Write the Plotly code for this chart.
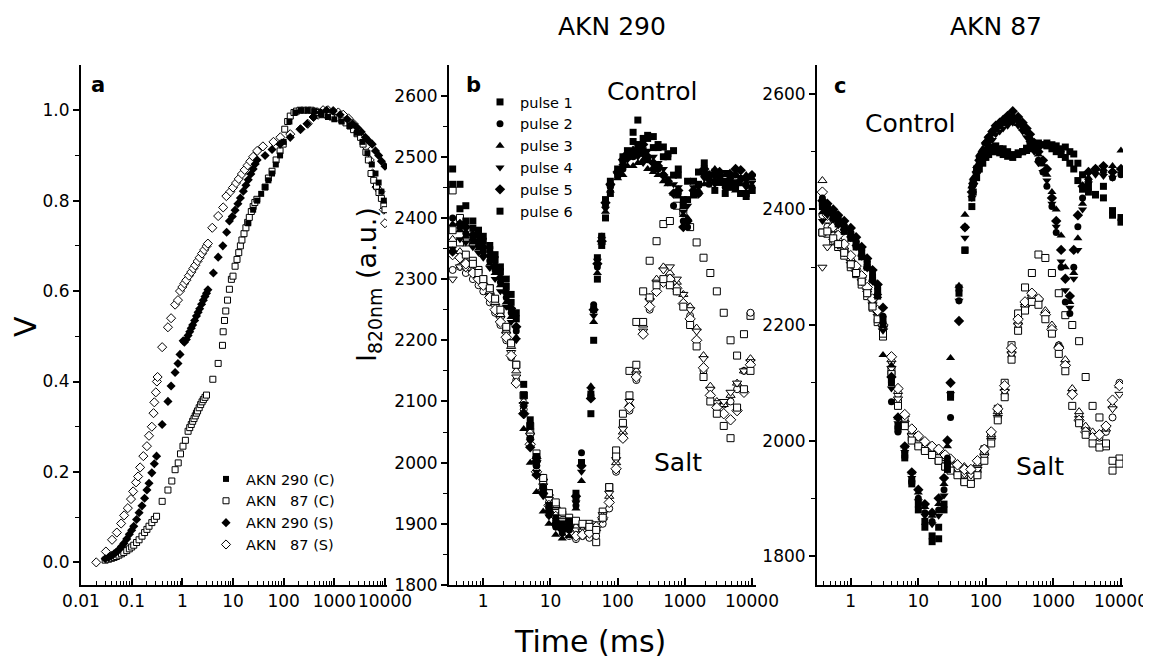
import plotly.graph_objects as go

W, H = 1151, 666
OFF = 8  # the page body adds an 8px margin; positions below are given in reference pixels


def px(x):
    return (x - OFF) / W


def py(y):
    return 1 - (y - OFF) / H


# ---------------- Panel a : normalised V vs time ----------------
a290c_t = [20, 25, 30, 36, 43, 50, 59, 70, 85, 100, 130, 170, 220, 300, 400, 550, 750, 1000, 1400, 2000,
           2800, 3600, 4500, 5500, 6500, 7500, 8500, 9500]
a290c_v = [0.75, 0.78, 0.80, 0.815, 0.83, 0.845, 0.86, 0.88, 0.90, 0.93, 0.975, 0.995, 1.0, 1.0, 0.998, 0.99,
           0.985, 0.98, 0.975, 0.965, 0.95, 0.93, 0.905, 0.88, 0.86, 0.84, 0.82, 0.80]

a87c_t = [0.03, 0.035, 0.04, 0.045, 0.05, 0.056, 0.063, 0.07, 0.08, 0.09, 0.1, 0.11, 0.125, 0.14, 0.16, 0.18,
          0.2, 0.22, 0.25, 0.28, 0.31,
          0.4, 0.52, 0.62, 0.72, 0.83, 0.92, 1.03, 1.15,
          1.3, 1.4, 1.5, 1.6, 1.7, 1.8, 1.9, 2.0, 2.15, 2.3, 2.45, 2.6, 2.8, 3.0,
          4.0, 5.1, 6.2, 6.4, 6.8, 7.2, 7.8, 8.5, 9.3,
          10, 11, 12, 13, 14, 15, 16.5, 18, 19.5, 21, 23, 25, 27, 29.6,
          43, 50, 59, 71, 85, 98, 105, 120, 135, 160, 180, 210, 250, 300, 350, 420, 500, 600, 750, 900,
          1150, 1400, 1700, 2050, 2400, 2800, 3300, 3700, 4200, 4700, 5300, 6000, 6800, 7600, 8500, 9500, 10000]
a87c_v = [0.005, 0.007, 0.009, 0.011, 0.013, 0.016, 0.019, 0.022, 0.026, 0.03, 0.034, 0.038, 0.044, 0.05,
          0.058, 0.066, 0.073, 0.08, 0.088, 0.095, 0.102,
          0.135, 0.16, 0.18, 0.205, 0.22, 0.24, 0.257, 0.27,
          0.29, 0.298, 0.305, 0.312, 0.318, 0.324, 0.33, 0.335, 0.342, 0.349, 0.355, 0.36, 0.365, 0.37,
          0.405, 0.44, 0.48, 0.51, 0.535, 0.556, 0.58, 0.604, 0.626,
          0.633, 0.655, 0.67, 0.685, 0.70, 0.713, 0.727, 0.74, 0.752, 0.763, 0.776, 0.787, 0.796, 0.803,
          0.83, 0.85, 0.865, 0.89, 0.91, 0.925, 0.958, 0.975, 0.987, 0.995, 0.998, 1.0, 1.0, 1.0, 1.0, 0.998,
          0.995, 0.99, 0.988, 0.985, 0.983, 0.978, 0.972, 0.965, 0.957, 0.948, 0.94, 0.925, 0.907, 0.89,
          0.86, 0.845, 0.832, 0.818, 0.805, 0.79, 0.78]

a290s_t = [0.03, 0.035, 0.04, 0.045, 0.05, 0.056, 0.063, 0.07, 0.08, 0.09, 0.1, 0.11, 0.125, 0.14, 0.16, 0.18,
           0.2, 0.22, 0.25, 0.28, 0.31,
           0.40, 0.52, 0.60, 0.72, 0.82, 0.90, 1.04,
           1.1, 1.2, 1.3, 1.4, 1.5, 1.6, 1.75, 1.9, 2.05, 2.2, 2.4, 2.6, 2.8, 3.0, 3.2,
           4.1, 5.1, 6.3, 7.5, 8.5,
           9.7, 11, 12.5, 14, 16, 18, 20, 22.5, 25, 27.5, 30,
           43, 59, 85, 135, 215, 290, 390, 530, 700, 950, 1300, 1800, 2300, 2800, 3400, 4100, 4800, 5600,
           6500, 7500, 8500, 10000]
a290s_v = [0.008, 0.011, 0.015, 0.019, 0.023, 0.028, 0.035, 0.042, 0.052, 0.062, 0.071, 0.08, 0.095, 0.11,
           0.125, 0.142, 0.16, 0.175, 0.198, 0.218, 0.235,
           0.305, 0.356, 0.39, 0.42, 0.44, 0.46, 0.49,
           0.487, 0.493, 0.502, 0.51, 0.518, 0.525, 0.535, 0.545, 0.553, 0.561, 0.571, 0.58, 0.588, 0.595, 0.603,
           0.64, 0.675, 0.70, 0.73, 0.755,
           0.765, 0.779, 0.793, 0.806, 0.821, 0.834, 0.846, 0.859, 0.87, 0.881, 0.89,
           0.90, 0.913, 0.925, 0.94, 0.958, 0.97, 0.985, 0.995, 1.0, 0.998, 0.99, 0.98, 0.97, 0.962, 0.952,
           0.94, 0.932, 0.925, 0.91, 0.9, 0.887, 0.876]

a87s_t = [0.02, 0.031, 0.041, 0.051, 0.062, 0.071, 0.084, 0.097, 0.107, 0.122,
          0.134, 0.147, 0.17, 0.2, 0.22, 0.25, 0.27, 0.28, 0.30, 0.315, 0.325,
          0.40, 0.52, 0.60, 0.72, 0.82,
          0.9, 1.0, 1.1, 1.2, 1.35, 1.5, 1.65, 1.8, 2.0, 2.2, 2.45, 2.7, 3.0, 3.2,
          3.9, 5.1, 6.4, 7.4,
          8.9, 10, 11.5, 13, 15, 17, 19.5, 22, 25, 30,
          39, 63, 86, 135, 215, 300, 390, 480, 600, 750, 950, 1200, 1500, 1900, 2400, 3200, 4200, 5000,
          5700, 6800, 8100, 9500, 10000]
a87s_v = [0.0, 0.024, 0.05, 0.066, 0.086, 0.104, 0.12, 0.14, 0.157, 0.177,
          0.19, 0.21, 0.235, 0.257, 0.28, 0.30, 0.33, 0.354, 0.376, 0.40, 0.41,
          0.476, 0.52, 0.54, 0.57, 0.58,
          0.60, 0.609, 0.617, 0.624, 0.634, 0.642, 0.65, 0.657, 0.666, 0.674, 0.683, 0.691, 0.699, 0.705,
          0.74, 0.766, 0.785, 0.81,
          0.82, 0.829, 0.839, 0.848, 0.859, 0.868, 0.878, 0.887, 0.897, 0.91,
          0.92, 0.93, 0.94, 0.947, 0.958, 0.97, 0.985, 0.99, 1.0, 1.0, 0.998, 0.995, 0.99, 0.982, 0.97,
          0.953, 0.92, 0.89, 0.86, 0.83, 0.82, 0.78, 0.75]

# ---------------- Panel b : AKN 290, I820nm ----------------
b_ctrl_t = [0.35, 0.45, 0.55, 0.7, 0.85, 1.0, 1.25, 1.5, 1.8, 2.2, 2.6, 3.1, 4.0, 5.0, 6.2, 7.8, 9.5, 12, 15,
            19, 24, 29, 40, 44, 50, 58, 66, 78, 100, 140, 200, 280, 400, 560, 800, 1100, 1600, 2300, 3300,
            4700, 6800, 10000]
b_ctrl_p1 = [2480, 2455, 2420, 2395, 2380, 2370, 2355, 2340, 2320, 2300, 2275, 2245, 2128, 2070, 2010, 1960,
             1930, 1910, 1900, 1905, 1950, 2000, 2080, 2200, 2300, 2355, 2400, 2440, 2470, 2500, 2560, 2530,
             2520, 2500, 2470, 2430, 2455, 2470, 2470, 2465, 2440, 2445]
b_ctrl_p2 = [2400, 2385, 2375, 2365, 2355, 2345, 2330, 2315, 2295, 2270, 2245, 2215, 2095, 2040, 1995, 1955,
             1915, 1895, 1885, 1890, 1930, 2016, 2110, 2258, 2320, 2370, 2420, 2450, 2475, 2500, 2505, 2495,
             2480, 2460, 2440, 2385, 2440, 2455, 2460, 2455, 2465, 2450]
b_ctrl_p3 = [2390, 2380, 2370, 2360, 2350, 2340, 2325, 2310, 2290, 2262, 2238, 2205, 2055, 2000, 1952, 1920,
             1900, 1882, 1876, 1880, 1925, 1970, 2125, 2230, 2310, 2360, 2410, 2445, 2465, 2485, 2490, 2480,
             2470, 2455, 2435, 2400, 2445, 2465, 2470, 2460, 2455, 2465]
b_ctrl_p4 = [2350, 2365, 2360, 2352, 2343, 2335, 2318, 2300, 2280, 2255, 2230, 2200, 2090, 2035, 1985, 1945,
             1912, 1895, 1888, 1890, 1935, 1985, 2120, 2240, 2330, 2365, 2415, 2450, 2470, 2495, 2500, 2510,
             2490, 2465, 2450, 2420, 2450, 2460, 2465, 2462, 2460, 2458]
b_ctrl_p5 = [2345, 2390, 2385, 2372, 2362, 2352, 2338, 2322, 2302, 2278, 2252, 2222, 2080, 2025, 1980, 1950,
             1920, 1900, 1890, 1895, 1945, 1995, 2105, 2250, 2325, 2362, 2425, 2455, 2475, 2505, 2510, 2500,
             2485, 2460, 2445, 2395, 2440, 2470, 2475, 2472, 2478, 2470]
b_ctrl_p6 = [2455, 2415, 2395, 2383, 2372, 2362, 2348, 2332, 2312, 2288, 2262, 2235, 2110, 2060, 2000, 1955,
             1925, 1900, 1895, 1900, 1940, 2000, 2112, 2250, 2335, 2370, 2430, 2460, 2480, 2510, 2520, 2535,
             2515, 2505, 2480, 2460, 2475, 2470, 2458, 2450, 2440, 2445]

# extra control readings on the plateau (t >= 120 ms)
b_ctrl2_t = [120, 170, 240, 340, 480, 680, 950, 1350, 1950, 2800, 4000, 5700, 8200]
b_ctrl2_p1 = [2490, 2540, 2510, 2533, 2516, 2510, 2420, 2440, 2480, 2475, 2460, 2450, 2435]
b_ctrl2_p2 = [2480, 2500, 2505, 2480, 2470, 2420, 2395, 2440, 2470, 2460, 2450, 2470, 2455]
b_ctrl2_p3 = [2470, 2485, 2495, 2475, 2460, 2440, 2405, 2435, 2455, 2480, 2470, 2445, 2470]
b_ctrl2_p4 = [2485, 2505, 2490, 2500, 2480, 2455, 2410, 2450, 2465, 2455, 2475, 2460, 2450]
b_ctrl2_p5 = [2495, 2510, 2520, 2490, 2470, 2440, 2385, 2445, 2480, 2470, 2455, 2480, 2465]
b_ctrl2_p6 = [2500, 2525, 2530, 2515, 2500, 2470, 2430, 2460, 2490, 2445, 2440, 2455, 2440]

b_salt_t = [0.35, 0.45, 0.55, 0.7, 0.85, 1.0, 1.25, 1.5, 1.8, 2.2, 2.6, 3.1, 4.0, 5.0, 6.2, 7.8, 9.5, 12, 15,
            19, 24, 30, 38, 48, 60, 75, 95, 120, 150, 190, 240, 300, 380, 480, 600, 760, 950, 1200, 1500,
            1900, 2400, 3000, 3800, 4800, 6000, 7600, 9500]
b_salt_p1 = [2445, 2400, 2360, 2330, 2315, 2300, 2285, 2265, 2245, 2220, 2195, 2160, 2110, 2050, 2005, 1970,
             1950, 1930, 1915, 1905, 1900, 1895, 1900, 1870, 1920, 1960, 2020, 2080, 2150, 2230, 2280, 2330,
             2362, 2390, 2395, 2420, 2410, 2385, 2360, 2335, 2310, 2280, 2245, 2200, 2175, 2210, 2240]
b_salt_p2 = [2315, 2320, 2310, 2300, 2290, 2280, 2262, 2245, 2225, 2200, 2172, 2135, 2087, 2040, 1995, 1960,
             1935, 1915, 1900, 1880, 1875, 1880, 1877, 1880, 1900, 1925, 1985, 2040, 2085, 2135, 2210, 2250,
             2280, 2295, 2300, 2280, 2260, 2240, 2200, 2150, 2110, 2090, 2095, 2100, 2120, 2150, 2245]
b_salt_p3 = [2365, 2345, 2330, 2315, 2305, 2295, 2280, 2262, 2242, 2215, 2190, 2150, 2100, 2050, 2010, 1975,
             1950, 1930, 1915, 1905, 1895, 1890, 1890, 1892, 1910, 1945, 2000, 2050, 2095, 2150, 2225, 2270,
             2300, 2320, 2310, 2295, 2275, 2255, 2220, 2175, 2125, 2100, 2095, 2110, 2130, 2150, 2170]
b_salt_p4 = [2300, 2320, 2318, 2310, 2300, 2290, 2272, 2255, 2235, 2210, 2180, 2140, 2095, 2045, 2000, 1962,
             1940, 1920, 1905, 1895, 1890, 1888, 1895, 1900, 1915, 1950, 2005, 2055, 2100, 2145, 2215, 2265,
             2295, 2315, 2320, 2300, 2275, 2250, 2215, 2170, 2120, 2098, 2100, 2115, 2130, 2150, 2165]
b_salt_p5 = [2340, 2335, 2325, 2310, 2300, 2290, 2270, 2250, 2230, 2205, 2175, 2130, 2080, 2030, 1985, 1955,
             1930, 1912, 1895, 1885, 1880, 1882, 1885, 1895, 1910, 1935, 1990, 2040, 2090, 2140, 2210, 2255,
             2280, 2295, 2300, 2285, 2260, 2235, 2200, 2155, 2110, 2090, 2080, 2070, 2085, 2115, 2160]
b_salt_p6 = [2380, 2360, 2340, 2325, 2310, 2300, 2285, 2268, 2250, 2222, 2195, 2160, 2110, 2060, 2015, 1975,
             1950, 1935, 1920, 1910, 1905, 1900, 1895, 1890, 1910, 1960, 2010, 2065, 2110, 2160, 2230, 2270,
             2290, 2300, 2290, 2280, 2255, 2225, 2190, 2140, 2100, 2080, 2060, 2040, 2090, 2120, 2150]

# ---------------- Panel c : AKN 87, I820nm ----------------
c_ctrl_t = [0.38, 0.45, 0.55, 0.65, 0.8, 1.0, 1.2, 1.45, 1.75, 2.1, 2.5, 3.0, 4.0, 5.0, 6.3, 8.0, 10, 12.5, 16,
            20, 24, 27, 30, 40, 49, 62, 73, 90, 110, 140, 180, 250, 350, 450, 600, 800, 950, 1100, 1300,
            1500, 1750, 2000, 2300, 2700, 3300, 4200, 5500, 7500, 10000]
c_ctrl_p1 = [2405, 2395, 2385, 2375, 2362, 2350, 2335, 2318, 2300, 2278, 2250, 2200, 2100, 2020, 1970, 1925,
             1890, 1860, 1825, 1830, 1880, 1950, 2075, 2255, 2330, 2405, 2455, 2480, 2495, 2500, 2495, 2490,
             2500, 2505, 2510, 2515, 2512, 2510, 2505, 2508, 2500, 2496, 2480, 2460, 2440, 2426, 2420, 2398,
             2386]
c_ctrl_p2 = [2420, 2405, 2395, 2385, 2372, 2360, 2345, 2330, 2310, 2290, 2265, 2215, 2067, 2015, 1980, 1930,
             1900, 1875, 1860, 1880, 1915, 1970, 2040, 2242, 2369, 2438, 2470, 2500, 2525, 2540, 2550, 2560,
             2545, 2520, 2485, 2440, 2405, 2360, 2300, 2240, 2220, 2300, 2370, 2420, 2450, 2470, 2465, 2455,
             2460]
c_ctrl_p3 = [2395, 2400, 2392, 2382, 2368, 2355, 2340, 2322, 2300, 2278, 2250, 2148, 2130, 2040, 1990, 1945,
             1910, 1885, 1870, 1890, 1925, 1990, 2143, 2268, 2391, 2440, 2475, 2505, 2525, 2540, 2548, 2555,
             2540, 2525, 2495, 2460, 2430, 2400, 2355, 2300, 2240, 2290, 2350, 2410, 2455, 2465, 2470, 2475,
             2502]
c_ctrl_p4 = [2380, 2390, 2382, 2372, 2362, 2350, 2335, 2318, 2298, 2275, 2250, 2190, 2090, 2030, 1980, 1935,
             1895, 1870, 1855, 1870, 1905, 1960, 2080, 2242, 2351, 2420, 2460, 2490, 2515, 2530, 2540, 2550,
             2535, 2515, 2480, 2450, 2410, 2370, 2310, 2260, 2230, 2280, 2330, 2400, 2445, 2460, 2458, 2455,
             2462]
c_ctrl_p5 = [2415, 2410, 2400, 2390, 2380, 2368, 2352, 2335, 2315, 2295, 2270, 2230, 2110, 2040, 1990, 1945,
             1915, 1890, 1875, 1900, 1935, 2000, 2100, 2207, 2369, 2430, 2465, 2500, 2525, 2545, 2555, 2570,
             2550, 2530, 2500, 2470, 2420, 2380, 2330, 2280, 2250, 2330, 2390, 2440, 2465, 2470, 2475, 2465,
             2470]
c_ctrl_p6 = [2412, 2402, 2392, 2380, 2368, 2356, 2340, 2325, 2305, 2283, 2258, 2210, 2105, 2025, 1975, 1930,
             1880, 1850, 1835, 1850, 1890, 1960, 2080, 2264, 2329, 2420, 2470, 2490, 2505, 2510, 2505, 2495,
             2500, 2512, 2515, 2510, 2505, 2500, 2495, 2490, 2480, 2470, 2450, 2435, 2430, 2425, 2440, 2390,
             2378]

# extra control readings on the cap (65-700 ms)
c_ctrl2_t = [65, 80, 100, 125, 160, 210, 300, 400, 520, 700]
c_ctrl2_p1 = [2430, 2470, 2490, 2500, 2498, 2492, 2495, 2502, 2508, 2512]
c_ctrl2_p2 = [2450, 2490, 2515, 2535, 2545, 2555, 2555, 2535, 2505, 2465]
c_ctrl2_p3 = [2455, 2495, 2515, 2530, 2545, 2550, 2548, 2535, 2510, 2478]
c_ctrl2_p4 = [2440, 2475, 2505, 2520, 2535, 2545, 2545, 2525, 2500, 2465]
c_ctrl2_p5 = [2445, 2485, 2515, 2535, 2550, 2562, 2560, 2540, 2515, 2485]
c_ctrl2_p6 = [2445, 2480, 2500, 2508, 2505, 2500, 2498, 2506, 2513, 2512]

c_salt_t = [0.38, 0.45, 0.55, 0.65, 0.8, 1.0, 1.2, 1.45, 1.75, 2.1, 2.5, 3.0, 4.0, 5.0, 6.3, 8.0, 10, 12.5, 16,
            20, 25, 30, 38, 48, 60, 75, 95, 120, 150, 190, 240, 300, 380, 480, 600, 760, 950, 1200, 1500,
            1900, 2400, 3000, 3800, 4800, 6000, 7500, 9500]
c_salt_p1 = [2360, 2358, 2345, 2335, 2320, 2300, 2288, 2270, 2250, 2230, 2205, 2180, 2120, 2065, 2030, 2005,
             1995, 1985, 1975, 1965, 1955, 1950, 1945, 1930, 1935, 1950, 1985, 2010, 2055, 2100, 2165, 2220,
             2265, 2290, 2322, 2316, 2290, 2255, 2217, 2200, 2172, 2110, 2060, 2040, 1990, 1948, 1969]
c_salt_p2 = [2390, 2370, 2355, 2345, 2330, 2312, 2298, 2282, 2262, 2242, 2222, 2195, 2137, 2080, 2038, 2012,
             2000, 1990, 1985, 1978, 1968, 1960, 1952, 1940, 1935, 1946, 1970, 2003, 2040, 2080, 2145, 2195,
             2230, 2250, 2245, 2220, 2195, 2165, 2135, 2085, 2045, 2020, 2010, 2005, 2015, 2040, 2100]
c_salt_p3 = [2450, 2380, 2365, 2350, 2335, 2315, 2300, 2285, 2265, 2245, 2225, 2200, 2140, 2085, 2045, 2015,
             2005, 1995, 1985, 1980, 1972, 1965, 1960, 1955, 1950, 1960, 1980, 2010, 2050, 2090, 2155, 2205,
             2235, 2250, 2245, 2225, 2200, 2165, 2140, 2090, 2050, 2025, 2015, 2012, 2020, 2060, 2095]
c_salt_p4 = [2300, 2335, 2345, 2338, 2325, 2305, 2290, 2275, 2255, 2235, 2215, 2190, 2125, 2072, 2030, 2008,
             1996, 1988, 1980, 1972, 1962, 1956, 1950, 1942, 1940, 1950, 1972, 2000, 2040, 2085, 2150, 2200,
             2232, 2248, 2240, 2215, 2190, 2160, 2128, 2078, 2038, 2018, 2008, 2008, 2022, 2055, 2080]
c_salt_p5 = [2430, 2390, 2370, 2355, 2340, 2320, 2302, 2285, 2265, 2245, 2225, 2200, 2145, 2090, 2045, 2020,
             2008, 1998, 1990, 1985, 1975, 1968, 1958, 1950, 1950, 1965, 1985, 2015, 2055, 2095, 2160, 2210,
             2240, 2255, 2245, 2218, 2192, 2160, 2130, 2080, 2035, 2015, 2005, 2010, 2025, 2070, 2095]
c_salt_p6 = [2360, 2362, 2350, 2340, 2325, 2305, 2290, 2275, 2255, 2232, 2210, 2185, 2115, 2060, 2025, 2000,
             1990, 1982, 1975, 1965, 1955, 1948, 1940, 1928, 1925, 1940, 1965, 1995, 2035, 2075, 2140, 2190,
             2225, 2240, 2235, 2210, 2185, 2150, 2120, 2060, 2030, 2010, 1995, 1988, 1995, 1965, 1960]

pulse_names = ["pulse 1", "pulse 2", "pulse 3", "pulse 4", "pulse 5", "pulse 6"]
x_tick_vals = [0.01, 0.1, 1, 10, 100, 1000, 10000]
x_tick_text = ["0.01", "0.1", "1", "10", "100", "1000", "10000"]

# ---------------- styling ----------------
FONT = "DejaVu Sans"
pulse_symbols = ["square", "circle", "triangle-up", "triangle-down", "diamond", "square"]
pulse_sizes = [7, 7, 8, 8, 8, 7]

fig = go.Figure()


def add(xa, ya, t, v, sym, size, filled, name=None, legend=None, show=False, rank=None):
    fig.add_trace(go.Scatter(
        x=t, y=v, mode="markers", xaxis=xa, yaxis=ya, name=name, showlegend=show,
        legend=legend, legendrank=rank, hoverinfo="skip",
        marker=dict(symbol=sym, size=size,
                    color="black" if filled else "white",
                    line=dict(color="black", width=0 if filled else 1))))


# panel a
add("x", "y", a87s_t, a87s_v, "diamond", 7, False, "AKN\u00a0\u00a0\u00a087 (S)", "legend", True, 4)
add("x", "y", a87c_t, a87c_v, "square", 6, False, "AKN\u00a0\u00a0\u00a087 (C)", "legend", True, 2)
add("x", "y", a290s_t, a290s_v, "diamond", 7, True, "AKN 290 (S)", "legend", True, 3)
add("x", "y", a290c_t, a290c_v, "square", 6, True, "AKN 290 (C)", "legend", True, 1)

# panel b
b_salt = [b_salt_p1, b_salt_p2, b_salt_p3, b_salt_p4, b_salt_p5, b_salt_p6]
b_ctrl = [b_ctrl_p1, b_ctrl_p2, b_ctrl_p3, b_ctrl_p4, b_ctrl_p5, b_ctrl_p6]
b_ctrl2 = [b_ctrl2_p1, b_ctrl2_p2, b_ctrl2_p3, b_ctrl2_p4, b_ctrl2_p5, b_ctrl2_p6]
for i in range(6):
    add("x2", "y2", b_salt_t, b_salt[i], pulse_symbols[i], pulse_sizes[i], False)
for i in range(6):
    add("x2", "y2", b_ctrl2_t, b_ctrl2[i], pulse_symbols[i], pulse_sizes[i], True)
for i in range(6):
    add("x2", "y2", b_ctrl_t, b_ctrl[i], pulse_symbols[i], pulse_sizes[i], True,
        pulse_names[i], "legend2", True, i + 1)

# panel c
c_salt = [c_salt_p1, c_salt_p2, c_salt_p3, c_salt_p4, c_salt_p5, c_salt_p6]
c_ctrl = [c_ctrl_p1, c_ctrl_p2, c_ctrl_p3, c_ctrl_p4, c_ctrl_p5, c_ctrl_p6]
c_ctrl2 = [c_ctrl2_p1, c_ctrl2_p2, c_ctrl2_p3, c_ctrl2_p4, c_ctrl2_p5, c_ctrl2_p6]
for i in range(6):
    add("x3", "y3", c_salt_t, c_salt[i], pulse_symbols[i], pulse_sizes[i], False)
for i in range(6):
    add("x3", "y3", c_ctrl_t, c_ctrl[i], pulse_symbols[i], pulse_sizes[i], True)
    add("x3", "y3", c_ctrl2_t, c_ctrl2[i], pulse_symbols[i], pulse_sizes[i], True)


def minor_log(lo, hi):
    vals = []
    d = lo
    while d < hi:
        for k in range(2, 10):
            vals.append(k * d)
        d *= 10
    return vals


tickfont = dict(family=FONT, size=17, color="black")


def xaxis(dom, rng, lo, anchor):
    return dict(domain=dom, anchor=anchor, type="log", range=rng, automargin=False, tickangle=0,
                showline=True, linecolor="black", linewidth=2,
                mirror=False, showgrid=False, zeroline=False, ticks="inside", ticklen=7, tickwidth=1.5,
                tickcolor="black", tickmode="array", tickvals=x_tick_vals, ticktext=x_tick_text,
                tickfont=tickfont,
                minor=dict(tickmode="array", tickvals=minor_log(lo, 10000), ticks="inside", ticklen=4,
                           tickwidth=1, tickcolor="black", showgrid=False))


def yaxis(dom, rng, tv, tt, mv, anchor):
    return dict(domain=dom, range=rng, anchor=anchor, automargin=False, showline=True, linecolor="black",
                linewidth=2, showgrid=False, zeroline=False, ticks="outside", ticklen=6, tickwidth=1.5,
                tickcolor="black", tickmode="array", tickvals=tv, ticktext=tt, tickfont=tickfont,
                minor=dict(tickmode="array", tickvals=mv, ticks="outside", ticklen=4, tickwidth=1,
                           tickcolor="black", showgrid=False))


ydom = [py(585), py(65)]

fig.update_layout(
    width=W, height=H, autosize=False, margin=dict(l=0, r=0, t=0, b=0, autoexpand=False),
    paper_bgcolor="white", plot_bgcolor="white",
    xaxis=xaxis([px(81), px(387)], [-2, 4.04], 0.01, "y"),
    xaxis2=xaxis([px(449), px(756)], [-0.51, 4.06], 0.1, "y2"),
    xaxis3=xaxis([px(817), px(1123)], [-0.5, 4.03], 0.1, "y3"),
    yaxis=yaxis(ydom, [-0.05, 1.1], [0, 0.2, 0.4, 0.6, 0.8, 1.0],
                ["0.0", "0.2", "0.4", "0.6", "0.8", "1.0"], [0.1, 0.3, 0.5, 0.7, 0.9], "x"),
    yaxis2=yaxis(ydom, [1800, 2650], list(range(1800, 2601, 100)),
                 [str(v) for v in range(1800, 2601, 100)], list(range(1850, 2600, 100)), "x2"),
    yaxis3=yaxis(ydom, [1750, 2650], list(range(1800, 2601, 200)),
                 [str(v) for v in range(1800, 2601, 200)], list(range(1900, 2600, 200)), "x3"),
    legend=dict(x=px(206), y=py(463), xanchor="left", yanchor="top", bgcolor="rgba(0,0,0,0)",
                borderwidth=0, font=dict(family=FONT, size=14.5, color="black"), tracegroupgap=0),
    legend2=dict(x=px(480), y=py(86), xanchor="left", yanchor="top", bgcolor="rgba(0,0,0,0)",
                 borderwidth=0, font=dict(family=FONT, size=14.5, color="black"), tracegroupgap=0),
    showlegend=True,
)


def ann(text, x, y, size, angle=0):
    return dict(text=text, x=px(x), y=py(y), xref="paper", yref="paper", showarrow=False,
                xanchor="center", yanchor="middle", textangle=angle,
                font=dict(family=FONT, size=size, color="black"))


fig.update_layout(annotations=[
    ann("AKN 290", 612, 27, 25),
    ann("AKN 87", 996, 27, 25),
    ann("Time (ms)", 590, 641, 30),
    ann("V", 26, 327, 30, -90),
    ann("I<sub>820nm</sub> (a.u.)", 368, 285, 27, -90),
    ann("<b>a</b>", 98, 85, 21),
    ann("<b>b</b>", 473, 85, 21),
    ann("<b>c</b>", 840, 86, 21),
    ann("Control", 652, 91, 25),
    ann("Salt", 678, 462, 25),
    ann("Control", 910, 124, 25),
    ann("Salt", 1040, 466, 25),
])

fig.write_html("out.html")
